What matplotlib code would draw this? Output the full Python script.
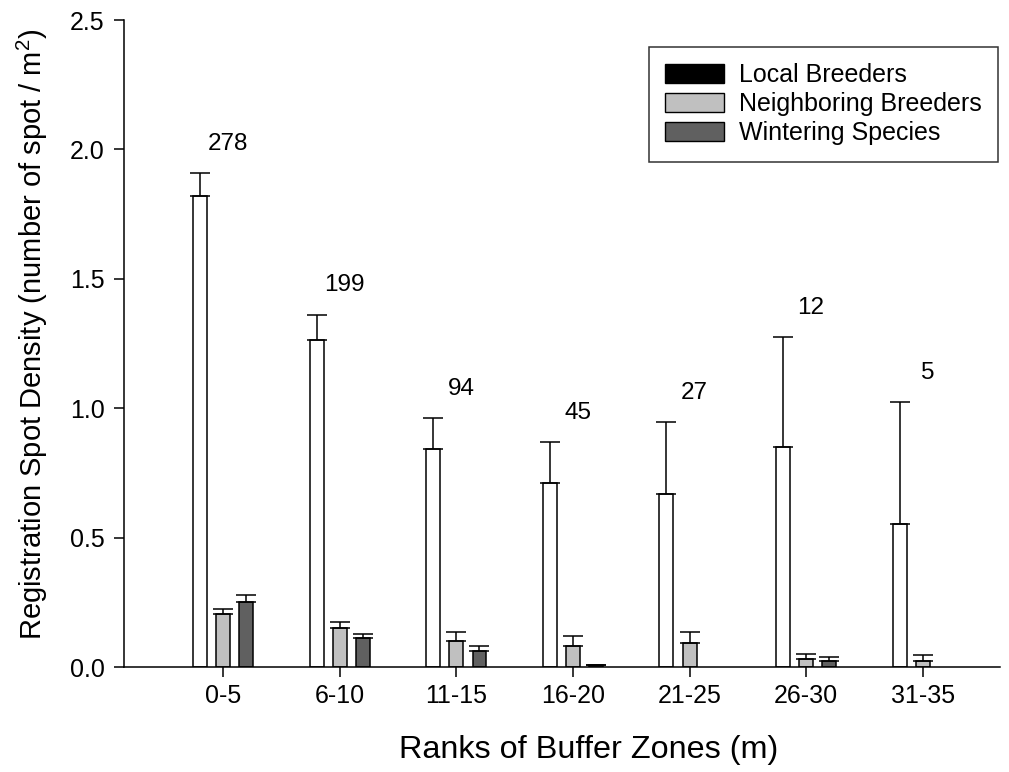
import numpy as np
import matplotlib
matplotlib.use("Agg")
import matplotlib.pyplot as plt
from matplotlib.patches import Patch

plt.rcParams['font.family'] = ['Liberation Sans', 'DejaVu Sans']
plt.rcParams['mathtext.fontset'] = 'custom'
plt.rcParams['mathtext.rm'] = 'Liberation Sans'

zones = ['0-5', '6-10', '11-15', '16-20', '21-25', '26-30', '31-35']
counts = [278, 199, 94, 45, 27, 12, 5]

local = [1.82, 1.262, 0.841, 0.713, 0.669, 0.852, 0.552]
local_err = [0.09, 0.10, 0.12, 0.156, 0.279, 0.422, 0.473]

neighbor = [0.204, 0.152, 0.102, 0.081, 0.092, 0.032, 0.024]
neighbor_err = [0.02, 0.023, 0.035, 0.039, 0.045, 0.019, 0.022]

winter = [0.253, 0.111, 0.063, 0.006, np.nan, 0.022, np.nan]
winter_err = [0.027, 0.018, 0.018, 0.001, np.nan, 0.018, np.nan]

fig = plt.figure(figsize=(10.09, 7.72), dpi=100)
ax = fig.add_axes([0.1229, 0.136, 0.991 - 0.1229, 0.974 - 0.136])

x = np.arange(len(zones))
w = 0.12
off = 0.198

series = [
    (local, local_err, -off, 'white'),
    (neighbor, neighbor_err, 0.0, '#c0c0c0'),
    (winter, winter_err, off, '#606060'),
]
for vals, errs, dx, col in series:
    vals = np.array(vals, dtype=float)
    errs = np.array(errs, dtype=float)
    ax.bar(x + dx, vals, w, color=col, edgecolor='black', linewidth=1.1, zorder=2)
    ax.errorbar(x + dx, vals, yerr=[np.zeros_like(errs), errs], fmt='none',
                ecolor='black', elinewidth=1.1, capsize=7.5, capthick=1.1, zorder=3)

# sample sizes above each zone
for i, n in enumerate(counts):
    top = local[i] + local_err[i]
    ax.annotate(str(n), xy=(x[i] + 0.04, top), xytext=(0, 21), textcoords='offset points',
                ha='center', va='center', fontsize=17.5)

ax.set_xlim(-0.852, 6.663)
ax.set_ylim(0, 2.5)
ax.set_xticks(x)
ax.set_xticklabels(zones)
ax.set_yticks([0, 0.5, 1.0, 1.5, 2.0, 2.5])
ax.set_yticklabels(['0.0', '0.5', '1.0', '1.5', '2.0', '2.5'])
ax.tick_params(direction='out', length=7, width=1.1, labelsize=18)
ax.tick_params(axis='y', pad=7)
ax.tick_params(axis='x', pad=5)

for s in ['top', 'right']:
    ax.spines[s].set_visible(False)
for s in ['left', 'bottom']:
    ax.spines[s].set_linewidth(1.1)

ax.set_xlabel('Ranks of Buffer Zones (m)', fontsize=23.3)
ax.set_ylabel('Registration Spot Density (number of spot / m$^2$)', fontsize=21)
ax.xaxis.set_label_coords(0.53, -0.105)
ax.yaxis.set_label_coords(-0.084, 0.515)

handles = [
    Patch(facecolor='black', edgecolor='black', label='Local Breeders'),
    Patch(facecolor='#c0c0c0', edgecolor='black', label='Neighboring Breeders'),
    Patch(facecolor='#606060', edgecolor='black', label='Wintering Species'),
]
leg = ax.legend(handles=handles, loc='upper right', bbox_to_anchor=(0.998, 0.958),
                fontsize=18, frameon=True, fancybox=False, edgecolor='black',
                handlelength=2.35, handleheight=0.8, handletextpad=0.6,
                labelspacing=0.2, borderpad=0.65, borderaxespad=0)
leg.get_frame().set_linewidth(1.1)

fig.savefig('out.png', dpi=100)
